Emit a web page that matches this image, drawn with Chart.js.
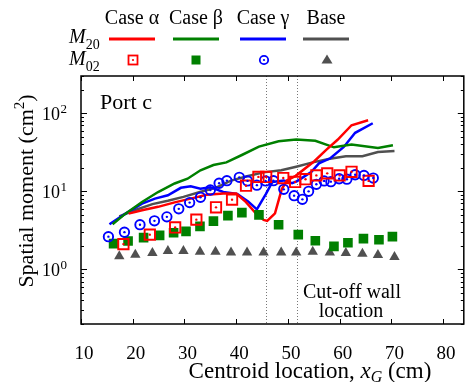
<!DOCTYPE html>
<html lang="en">
<head>
<meta charset="UTF-8">
<title>Port c - spatial moments</title>
<script src="https://cdn.jsdelivr.net/npm/chart.js@4/dist/chart.umd.min.js"></script>
<style>
  html, body { margin: 0; padding: 0; background: #fff; }
</style>
</head>
<body>
<canvas id="myChart" width="473" height="382"></canvas>

<script type="text/javascript">
    // ---- data (x in cm, y in cm^2) ----
    var baseX    = [17.4, 20.5, 23.8, 26.8, 29.8, 33.0, 36.0, 39.0, 42.1, 45.3, 48.7, 51.6, 54.8, 58.1, 61.2, 64.4, 67.4, 70.6];
    var baseM20  = [4.78, 5.76, 6.86, 7.57, 8.49, 9.8, 11.1, 13.7, 15.6, 17.5, 18.6, 20.7, 23.5, 26.1, 28.1, 28.1, 31.9, 32.9];
    var baseM02  = [1.47, 1.54, 1.62, 1.72, 1.72, 1.69, 1.69, 1.65, 1.65, 1.65, 1.65, 1.65, 1.69, 1.65, 1.62, 1.59, 1.53, 1.44];

    var alphaM20X = [19.2, 21.8, 24.9, 28.1, 31.2, 34.3, 37.5, 40.0, 41.9, 43.8, 45.3, 46.0, 47.5, 48.8, 49.8, 51.5, 55.1, 57.4, 59.6, 62.3, 65.5];
    var alphaM20  = [5.18, 5.71, 6.33, 7.22, 8.06, 9.02, 9.35, 9.35, 7.29, 5.22, 4.31, 4.19, 5.22, 10.6, 13.8, 15.8, 24.3, 34.0, 45.7, 70.2, 81.3];
    var alphaM02X = [18.2, 23.3, 28.2, 32.3, 36.1, 39.2, 41.9, 44.3, 45.8, 49.1, 51.4, 53.4, 55.5, 57.6, 60.0, 62.3, 65.6];
    var alphaM02  = [2.11, 2.79, 3.45, 4.34, 6.24, 7.83, 11.8, 15.3, 15.3, 14.8, 13.2, 14.3, 16.0, 17.0, 16.0, 17.8, 13.6];

    var betaM20X = [16.1, 18.6, 21.8, 24.9, 28.1, 30.6, 33.1, 35.6, 38.1, 41.1, 44.4, 48.2, 51.6, 55.3, 58.9, 62.3, 67.4, 70.3];
    var betaM20  = [3.78, 5.18, 7.29, 9.8, 12.6, 14.5, 18.6, 21.7, 23.5, 29.2, 37.4, 43.8, 46.0, 44.4, 36.6, 39.7, 35.9, 38.9];
    var betaM02X = [16.3, 19.1, 22.1, 25.2, 27.9, 30.3, 33.0, 35.6, 38.4, 41.1, 44.4, 48.2, 52.0, 55.3, 58.9, 61.6, 64.6, 67.6, 70.2];
    var betaM02  = [2.14, 2.31, 2.55, 2.73, 2.95, 3.07, 3.56, 4.16, 4.88, 5.33, 5.0, 3.74, 2.79, 2.33, 1.97, 2.20, 2.48, 2.40, 2.63];

    var gammaM20X = [15.5, 18.6, 21.8, 24.3, 26.8, 29.3, 31.2, 33.1, 35.0, 37.5, 40.2, 42.3, 44.0, 45.7, 47.0, 49.2, 50.8, 51.7, 52.9, 54.5, 56.0, 58.2, 60.8, 63.0, 66.4];
    var gammaM20  = [3.78, 5.18, 6.95, 8.06, 8.89, 11.1, 11.6, 10.8, 11.3, 9.8, 9.29, 7.44, 5.88, 9.16, 13.2, 13.8, 12.7, 13.4, 15.1, 17.7, 22.8, 26.5, 37.0, 56.2, 74.5];
    var gammaM02X = [15.3, 18.4, 21.4, 24.2, 26.6, 28.9, 31.0, 33.1, 35.0, 36.7, 38.2, 40.6, 42.2, 44.0, 45.7, 47.2, 49.2, 51.2, 52.8, 54.0, 55.5, 57.0, 58.3, 59.9, 61.4, 63.0, 64.7, 66.5];
    var gammaM02  = [2.63, 3.0, 3.74, 4.19, 4.71, 5.97, 7.17, 8.38, 10.4, 12.7, 13.7, 15.1, 13.6, 12.0, 13.6, 13.7, 10.6, 8.8, 7.9, 10.0, 12.3, 13.6, 13.3, 14.5, 14.3, 16.3, 16.0, 14.8];

    var cutoffX = [45.8, 51.7];
    var xTicks = [10, 20, 30, 40, 50, 60, 70, 80];
    var yTicks = [1, 10, 100];
    var yTickExp = ['0', '1', '2'];
    var caseNames = ['Case \u03b1', 'Case \u03b2', 'Case \u03b3', 'Base'];

    var serif = '"Liberation Serif", "Times New Roman", serif';
    var RED = '#ff0000', GREEN = '#008000', BLUE = '#0000ff', GRAY = '#505050';
    var clear = 'rgba(0,0,0,0)';

    function pts(xs, ys) {
        return xs.map(function(x, i) { return {x: x, y: ys[i]}; });
    }

    function lineSet(xs, ys, color) {
        return {data: pts(xs, ys), showLine: true, borderColor: color, borderWidth: 2.5,
                pointRadius: 0, fill: false, tension: 0, order: 3};
    }

    // frame, inward ticks, cut-off lines and all the text
    var decor = {
        id: 'decor',
        beforeDatasetsDraw: function(chart) {
            var ctx = chart.ctx, a = chart.chartArea, xs = chart.scales.x;
            ctx.save();
            ctx.strokeStyle = '#777';
            ctx.lineWidth = 1;
            ctx.setLineDash([1, 2]);
            cutoffX.forEach(function(v) {
                var px = Math.round(xs.getPixelForValue(v)) + 0.5;
                ctx.beginPath();
                ctx.moveTo(px, a.top);
                ctx.lineTo(px, a.bottom);
                ctx.stroke();
            });
            ctx.restore();
        },
        afterDatasetsDraw: function(chart) {
            var ctx = chart.ctx, a = chart.chartArea, xs = chart.scales.x, ys = chart.scales.y;
            ctx.save();
            ctx.strokeStyle = '#000';
            ctx.lineWidth = 1.5;
            ctx.strokeRect(a.left, a.top, a.right - a.left, a.bottom - a.top);
            ctx.lineWidth = 1;
            // x ticks (top and bottom, inward)
            xTicks.forEach(function(v) {
                var px = Math.round(xs.getPixelForValue(v)) + 0.5;
                ctx.beginPath();
                ctx.moveTo(px, a.bottom); ctx.lineTo(px, a.bottom - 5);
                ctx.moveTo(px, a.top); ctx.lineTo(px, a.top + 5);
                ctx.stroke();
            });
            // y ticks, major and minor, left and right
            for (var d = -1; d <= 2; d++) {
                for (var m = 1; m <= 9; m++) {
                    var v = m * Math.pow(10, d);
                    if (v < ys.min || v > ys.max) continue;
                    var py = Math.round(ys.getPixelForValue(v)) + 0.5;
                    var len = m === 1 ? 6 : 3;
                    ctx.beginPath();
                    ctx.moveTo(a.left, py); ctx.lineTo(a.left + len, py);
                    ctx.moveTo(a.right, py); ctx.lineTo(a.right - len, py);
                    ctx.stroke();
                }
            }
            ctx.restore();
        },
        afterDraw: function(chart) {
            var ctx = chart.ctx, a = chart.chartArea, ys = chart.scales.y;
            ctx.save();
            ctx.fillStyle = '#000';
            ctx.textBaseline = 'alphabetic';

            // y tick labels 10^n
            yTicks.forEach(function(v, i) {
                var py = ys.getPixelForValue(v);
                ctx.font = '18px ' + serif;
                ctx.textAlign = 'right';
                ctx.fillText('10', 60, py + 6.5);
                ctx.font = '13px ' + serif;
                ctx.textAlign = 'left';
                ctx.fillText(yTickExp[i], 60.5, py);
            });

            // y title
            ctx.save();
            ctx.translate(33, 191);
            ctx.rotate(-Math.PI / 2);
            ctx.font = '22px ' + serif;
            var t1 = 'Spatial moment (cm', t3 = ')';
            var w1 = ctx.measureText(t1).width, w3 = ctx.measureText(t3).width;
            ctx.font = '15px ' + serif;
            var w2 = ctx.measureText('2').width;
            var x0 = -(w1 + w2 + w3) / 2;
            ctx.textAlign = 'left';
            ctx.font = '22px ' + serif;
            ctx.fillText(t1, x0, 0);
            ctx.font = '15px ' + serif;
            ctx.fillText('2', x0 + w1, -9);
            ctx.font = '22px ' + serif;
            ctx.fillText(t3, x0 + w1 + w2, 0);
            ctx.restore();

            // x title
            ctx.textAlign = 'left';
            var s1 = 'Centroid location, ', s4 = ' (cm)';
            ctx.font = '23px ' + serif;
            var ws1 = ctx.measureText(s1).width, ws4 = ctx.measureText(s4).width;
            ctx.font = 'italic 23px ' + serif;
            var ws2 = ctx.measureText('x').width;
            ctx.font = 'italic 16px ' + serif;
            var ws3 = ctx.measureText('G').width;
            var xt = 310 - (ws1 + ws2 + ws3 + ws4) / 2, yt = 378;
            ctx.font = '23px ' + serif;
            ctx.fillText(s1, xt, yt);
            ctx.font = 'italic 23px ' + serif;
            ctx.fillText('x', xt + ws1, yt);
            ctx.font = 'italic 16px ' + serif;
            ctx.fillText('G', xt + ws1 + ws2, yt + 4);
            ctx.font = '23px ' + serif;
            ctx.fillText(s4, xt + ws1 + ws2 + ws3, yt);

            // annotations inside the plot
            ctx.font = '22px ' + serif;
            ctx.fillText('Port c', a.left + 19, 109);
            ctx.font = '20px ' + serif;
            ctx.textAlign = 'center';
            ctx.fillText('Cut-off wall', 352, 298);
            ctx.fillText('location', 351, 317);

            // legend table
            var cols = [132, 196, 263, 326];
            var colors = [RED, GREEN, BLUE, GRAY];
            ctx.font = '20px ' + serif;
            caseNames.forEach(function(n, i) { ctx.fillText(n, cols[i], 24); });

            ctx.textAlign = 'left';
            [['20', 43], ['02', 65]].forEach(function(r) {
                ctx.font = 'italic 20px ' + serif;
                ctx.fillText('M', 69, r[1]);
                var wm = ctx.measureText('M').width;
                ctx.font = '14px ' + serif;
                ctx.fillText(r[0], 69 + wm, r[1] + 6);
            });

            ctx.lineWidth = 3;
            cols.forEach(function(cx, i) {
                ctx.strokeStyle = colors[i];
                ctx.beginPath();
                ctx.moveTo(cx - 23, 39);
                ctx.lineTo(cx + 23, 39);
                ctx.stroke();
            });

            var my = 60;
            ctx.lineWidth = 1.8;
            // red hollow square with dot
            ctx.strokeStyle = RED; ctx.fillStyle = RED;
            ctx.strokeRect(cols[0] + 1 - 4.5, my - 4.5, 9, 9);
            ctx.beginPath(); ctx.arc(cols[0] + 1, my, 1.1, 0, 2 * Math.PI); ctx.fill();
            // green filled square
            ctx.fillStyle = GREEN;
            ctx.fillRect(cols[1] - 4.5, my - 4.5, 9, 9);
            // blue hollow circle with dot
            ctx.strokeStyle = BLUE; ctx.fillStyle = BLUE;
            ctx.beginPath(); ctx.arc(cols[2] + 1, my, 4.2, 0, 2 * Math.PI); ctx.stroke();
            ctx.beginPath(); ctx.arc(cols[2] + 1, my, 1.1, 0, 2 * Math.PI); ctx.fill();
            // gray triangle
            ctx.fillStyle = GRAY;
            ctx.beginPath();
            ctx.moveTo(cols[3] + 1, my - 5.5);
            ctx.lineTo(cols[3] + 1 + 5.5, my + 3.5);
            ctx.lineTo(cols[3] + 1 - 5.5, my + 3.5);
            ctx.closePath(); ctx.fill();

            ctx.restore();
        }
    };

    var ctx = document.getElementById('myChart').getContext('2d');
    var myChart = new Chart(ctx, {
        type: 'scatter',
        data: {
            datasets: [
                // centre dots of the hollow markers
                {data: pts(alphaM02X, alphaM02), pointStyle: 'circle', pointRadius: 1.2, backgroundColor: RED, borderWidth: 0, order: 0},
                {data: pts(gammaM02X, gammaM02), pointStyle: 'circle', pointRadius: 1.2, backgroundColor: BLUE, borderWidth: 0, order: 0},
                // M02 markers
                {data: pts(alphaM02X, alphaM02), pointStyle: 'rect', pointRadius: 7.3, borderColor: RED, backgroundColor: clear, borderWidth: 1.9, order: 1},
                {data: pts(gammaM02X, gammaM02), pointStyle: 'circle', pointRadius: 4.7, borderColor: BLUE, backgroundColor: clear, borderWidth: 1.9, order: 1},
                {data: pts(betaM02X, betaM02), pointStyle: 'rect', pointRadius: 6.8, backgroundColor: GREEN, borderWidth: 0, order: 2},
                {data: pts(baseX, baseM02), pointStyle: 'triangle', pointRadius: 6, backgroundColor: GRAY, borderWidth: 0, order: 2},
                // M20 lines
                lineSet(alphaM20X, alphaM20, RED),
                lineSet(betaM20X, betaM20, GREEN),
                lineSet(gammaM20X, gammaM20, BLUE),
                lineSet(baseX, baseM20, GRAY)
            ]
        },
        options: {
            responsive: false,
            animation: false,
            events: [],
            layout: {padding: {top: 76, right: 2, left: 0, bottom: 0}},
            plugins: {legend: {display: false}, tooltip: {enabled: false}},
            scales: {
                x: {
                    type: 'linear',
                    min: 10,
                    max: 84,
                    grid: {display: false},
                    border: {display: false},
                    ticks: {
                        color: '#000',
                        font: {family: serif, size: 19},
                        padding: 11,
                        labelOffset: 3,
                        maxRotation: 0,
                        callback: function(v) { return String(v); }
                    },
                    afterBuildTicks: function(s) {
                        s.ticks = xTicks.map(function(v) { return {value: v}; });
                    },
                    afterFit: function(s) { s.height = 58; }
                },
                y: {
                    type: 'logarithmic',
                    min: 0.2,
                    max: 300,
                    grid: {display: false},
                    border: {display: false},
                    ticks: {display: false},
                    afterFit: function(s) { s.width = 81; }
                }
            }
        },
        plugins: [decor]
    });
</script>
</body>
</html>
